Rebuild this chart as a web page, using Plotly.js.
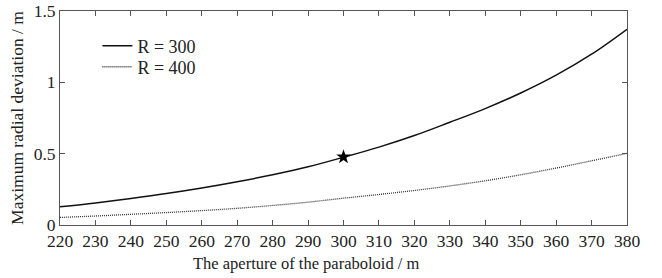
<!DOCTYPE html>
<html>
<head>
<meta charset="utf-8">
<script src="https://cdn.plot.ly/plotly-3.0.1.min.js"></script>
<style>html,body{margin:0;padding:0;background:#fff;}#chart{width:662px;height:278px;}</style>
</head>
<body>
<div id="chart"></div>
<script>
const aperture = [220, 230, 240, 250, 260, 270, 280, 290, 300, 310, 320, 330, 340, 350, 360, 370, 380];
const devR300 = [0.128, 0.155, 0.186, 0.220, 0.259, 0.303, 0.352, 0.408, 0.475, 0.546, 0.627, 0.720, 0.816, 0.925, 1.050, 1.197, 1.372];
const devR400 = [0.053, 0.063, 0.075, 0.087, 0.101, 0.117, 0.137, 0.160, 0.188, 0.214, 0.242, 0.274, 0.310, 0.352, 0.399, 0.450, 0.502];
const starX = [300];
const starY = [0.477];
const xTicks = [220, 230, 240, 250, 260, 270, 280, 290, 300, 310, 320, 330, 340, 350, 360, 370, 380];
const yTicks = [0, 0.5, 1, 1.5];
const yTickText = ['0', '0.5', '1', '1.5'];

function f(size) { return {family: 'Liberation Serif, serif', size: size || 16, color: '#222'}; }

const traces = [
  {x: aperture, y: devR300, mode: 'lines', name: 'R = 300', legend: 'legend', line: {color: '#111', width: 1.5, shape: 'spline'}},
  {x: aperture, y: devR400, mode: 'lines', name: 'R = 400', legend: 'legend2', line: {color: '#333', width: 1.3, dash: '1px,1px', shape: 'spline'}},
  {x: starX, y: starY, mode: 'markers', showlegend: false, marker: {symbol: 'star', size: 11, color: '#000'}}
];

function axis(extra) {
  return Object.assign({
    showgrid: false, zeroline: false, showline: true, mirror: 'ticks',
    linecolor: '#555', linewidth: 1, ticks: 'inside', ticklen: 5, tickcolor: '#555',
    tickfont: f(17.5)
  }, extra);
}

function leg(y) {
  return {x: 0.066, y: y, xanchor: 'left', yanchor: 'middle', bgcolor: 'rgba(0,0,0,0)', borderwidth: 0, font: f(18), tracegroupgap: 0};
}

const layout = {
  width: 662, height: 278,
  margin: {l: 60, r: 35, t: 11, b: 53},
  paper_bgcolor: '#fff', plot_bgcolor: '#fff',
  font: f(16),
  showlegend: true,
  legend: leg(0.836),
  legend2: leg(0.738),
  xaxis: axis({
    range: [220, 380], tickvals: xTicks, ticktext: xTicks.map(String)
  }),
  yaxis: axis({
    range: [0, 1.5], tickvals: yTicks, ticktext: yTickText,
    title: {text: 'Maximum radial deviation / m', font: f(17.5), standoff: 5}
  }),
  annotations: [{
    text: 'The aperture of the paraboloid / m', xref: 'paper', yref: 'paper',
    x: 0.434, y: 0, xanchor: 'center', yanchor: 'top', yshift: -27, showarrow: false, font: f(16.5)
  }]
};

Plotly.newPlot('chart', traces, layout, {staticPlot: true, displayModeBar: false});
</script>
</body>
</html>
